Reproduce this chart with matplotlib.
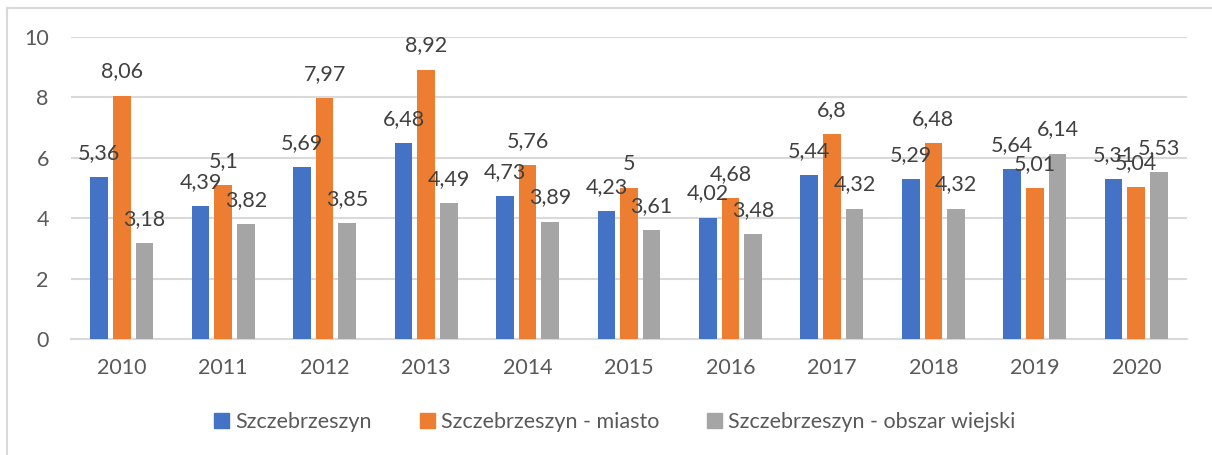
import matplotlib.pyplot as plt
import numpy as np
from matplotlib.lines import Line2D

years = ['2010', '2011', '2012', '2013', '2014', '2015', '2016', '2017', '2018', '2019', '2020']
szczebrzeszyn = [5.36, 4.39, 5.69, 6.48, 4.73, 4.23, 4.02, 5.44, 5.29, 5.64, 5.31]
miasto = [8.06, 5.10, 7.97, 8.92, 5.76, 5.00, 4.68, 6.80, 6.48, 5.01, 5.04]
obszar_wiejski = [3.18, 3.82, 3.85, 4.49, 3.89, 3.61, 3.48, 4.32, 4.32, 6.14, 5.53]

series_names = ['Szczebrzeszyn', 'Szczebrzeszyn - miasto', 'Szczebrzeszyn - obszar wiejski']
colors = ['#4472C4', '#ED7D31', '#A5A5A5']

plt.rcParams['font.family'] = ['Lato', 'DejaVu Sans']

fig = plt.figure(figsize=(12.12, 4.55), dpi=100)
ax = fig.add_axes([71 / 1212, 1 - 339 / 455, (1187 - 71) / 1212, (339 - 37) / 455])

x = np.arange(len(years))
width = 0.174
step = 0.223

def fmt(v):
    s = ('%.2f' % v).rstrip('0').rstrip('.')
    return s.replace('.', ',')

for i, (vals, c) in enumerate(zip([szczebrzeszyn, miasto, obszar_wiejski], colors)):
    pos = x + (i - 1) * step
    bars = ax.bar(pos, vals, width, color=c, zorder=3)
    for b, v in zip(bars, vals):
        ax.annotate(fmt(v), (b.get_x() + b.get_width() / 2, b.get_height()),
                    xytext=(0, 17.3), textcoords='offset points',
                    ha='center', va='center', fontsize=15.5, color='#404040', zorder=4)

ax.set_xlim(-0.5, len(years) - 0.5)
ax.set_ylim(0, 10)
ax.set_yticks([0, 2, 4, 6, 8, 10])
ax.set_xticks(x)
ax.set_xticklabels(years)
ax.grid(axis='y', color='#D9D9D9', linewidth=1.5, zorder=0)
for s in ['top', 'right', 'left']:
    ax.spines[s].set_visible(False)
ax.spines['bottom'].set_color('#D9D9D9')
ax.spines['bottom'].set_linewidth(1.5)
ax.tick_params(axis='both', length=0, labelsize=15.5, labelcolor='#595959')
ax.tick_params(axis='x', pad=14)
ax.tick_params(axis='y', pad=16)

handles = [plt.Rectangle((0, 0), 1, 1, color=c) for c in colors]
fig.legend(handles, series_names, loc='center', bbox_to_anchor=(615 / 1212, 1 - 422 / 455),
           ncol=3, frameon=False, fontsize=15.5, labelcolor='#595959',
           handlelength=0.7, handleheight=0.7, handletextpad=0.3, columnspacing=2.2)

# chart area border (left and top)
fig.add_artist(Line2D([7 / 1212, 7 / 1212], [0, 1 - 8 / 455], transform=fig.transFigure,
                      color='#D9D9D9', linewidth=1.5))
fig.add_artist(Line2D([7 / 1212, 1], [1 - 8 / 455, 1 - 8 / 455], transform=fig.transFigure,
                      color='#D9D9D9', linewidth=1.5))

fig.savefig('out.png', dpi=100)
